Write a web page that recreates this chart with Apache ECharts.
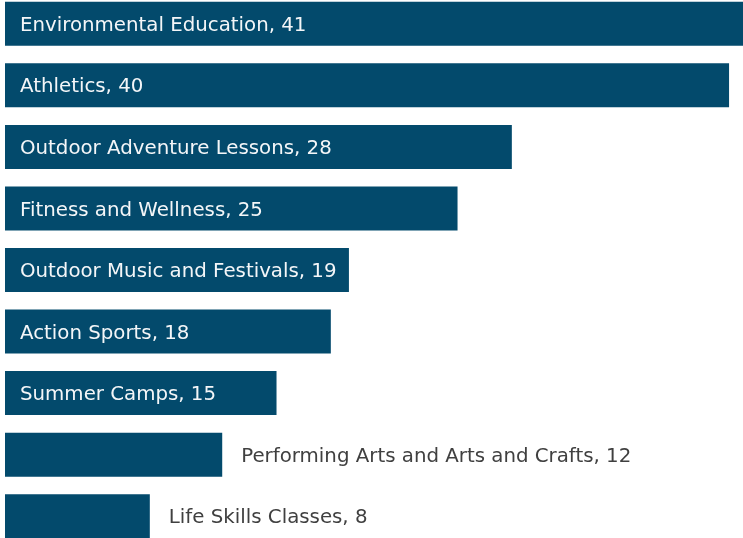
<!DOCTYPE html>
<html>
<head>
<meta charset="utf-8">
<script src="https://cdn.jsdelivr.net/npm/echarts@6/dist/echarts.min.js"></script>
<style>
  html, body { margin: 0; padding: 0; background: #fff; overflow: hidden; width: 743px; height: 538px; }
  /* the bars run a little past the window top and bottom */
  #main { position: absolute; left: 0; top: -7px; width: 743px; height: 554px; }
</style>
</head>
<body>
<div id="main"></div>
<script>
var categories = ['Environmental Education', 'Athletics', 'Outdoor Adventure Lessons', 'Fitness and Wellness',
    'Outdoor Music and Festivals', 'Action Sports', 'Summer Camps', 'Performing Arts and Arts and Crafts', 'Life Skills Classes'];
var values = [41, 40, 28, 25, 19, 18, 15, 12, 8];

var myChart = echarts.init(document.getElementById('main'));

// short bars get their label outside, to the right
var seriesData = values.map(function (v) {
    var inside = v >= 15;
    return {
        value: v,
        label: inside
            ? { position: 'insideLeft', distance: 15, color: '#f4f6f8' }
            : { position: 'right', distance: 19, color: '#404040' }
    };
});

var option = {
    animation: false,
    grid: { left: 5, right: 0, top: 0, bottom: 0 },
    xAxis: {
        type: 'value',
        min: 0,
        max: 40.77,
        show: false
    },
    yAxis: {
        type: 'category',
        data: categories,
        inverse: true,
        show: false
    },
    series: [{
        type: 'bar',
        data: seriesData,
        barCategoryGap: '28.5%',
        itemStyle: { color: '#034a6c' },
        label: {
            show: true,
            fontFamily: 'DejaVu Sans',
            fontSize: 19.8,
            offset: [0, 2],
            formatter: function (p) { return p.name + ', ' + p.value; }
        }
    }]
};

myChart.setOption(option);
</script>
</body>
</html>
